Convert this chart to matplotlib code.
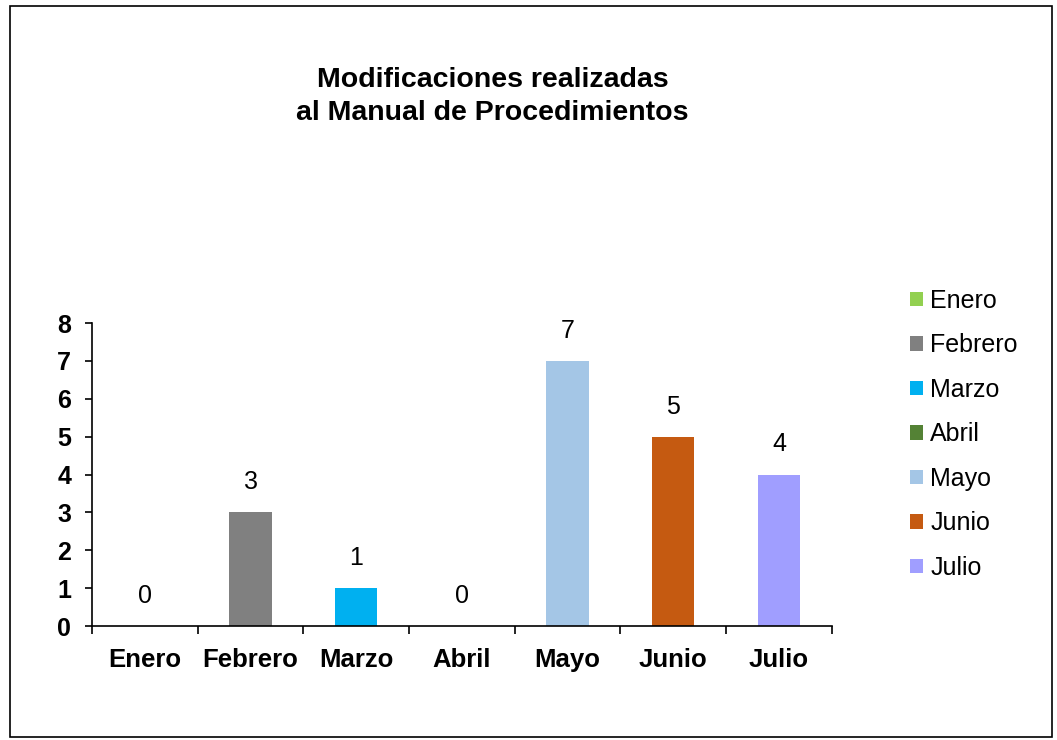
import matplotlib.pyplot as plt
from matplotlib.patches import Patch, Rectangle
import numpy as np

# datos
meses = ['Enero', 'Febrero', 'Marzo', 'Abril', 'Mayo', 'Junio', 'Julio']
modificaciones = [0, 3, 1, 0, 7, 5, 4]
colores = ['#92D050', '#808080', '#00B0F0', '#548235', '#A4C6E6', '#C55A11', '#A09EFF']

plt.rcParams['font.family'] = ['Liberation Sans', 'DejaVu Sans']

fig = plt.figure(figsize=(10.57, 7.40), dpi=100)
ax = fig.add_axes([0.087, 0.154, 0.700, 0.4095])

x = np.arange(len(meses))
bars = ax.bar(x, modificaciones, width=0.4, color=colores, zorder=2)

# etiquetas de datos
for xi, v in zip(x, modificaciones):
    ax.annotate(str(v), (xi, v), xytext=(0, 13), textcoords='offset points',
                ha='center', va='bottom', fontsize=18)

ax.set_xlim(-0.5, len(meses) - 0.5)
ax.set_ylim(0, 8)
ax.set_yticks(range(0, 9))
ax.set_xticks(x)
ax.set_xticklabels(meses, fontsize=18.5, fontweight='bold')
ax.set_xticks(np.arange(-0.5, len(meses)), minor=True)
ax.tick_params(axis='x', which='major', length=0, pad=16)
ax.tick_params(axis='x', which='minor', length=6, width=1.2, direction='out')
ax.tick_params(axis='y', length=5, width=1.2, pad=10, labelsize=18)
for lbl in ax.get_yticklabels():
    lbl.set_fontweight('bold')

for s in ['top', 'right']:
    ax.spines[s].set_visible(False)
for s in ['left', 'bottom']:
    ax.spines[s].set_linewidth(1.2)

fig.text(0.466, 0.869, 'Modificaciones realizadas\nal Manual de Procedimientos',
         ha='center', va='center', fontsize=20.5, fontweight='bold', linespacing=1.35)

handles = [Patch(facecolor=c, label=m) for m, c in zip(meses, colores)]
fig.legend(handles=handles, loc='upper left', bbox_to_anchor=(0.84, 0.64),
           frameon=False, fontsize=18, handlelength=0.5, handleheight=0.5,
           handletextpad=0.3, labelspacing=0.82)

# marco exterior
fig.patches.append(Rectangle((0.009, 0.004), 0.986, 0.988, transform=fig.transFigure,
                             fill=False, edgecolor='black', linewidth=1.2))

fig.savefig('out.png', dpi=100)
